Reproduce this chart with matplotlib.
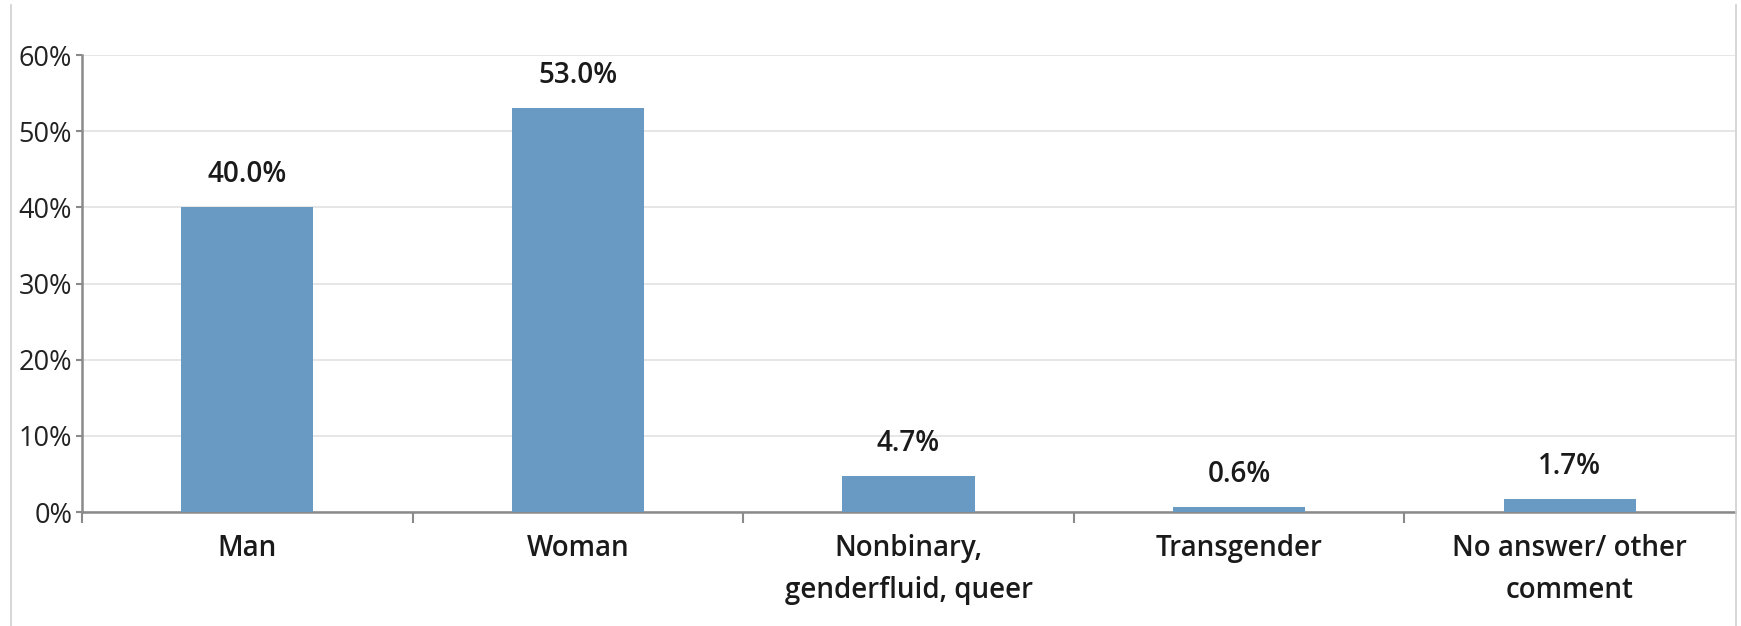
import matplotlib
matplotlib.use("Agg")
import matplotlib.pyplot as plt
from matplotlib.lines import Line2D
from matplotlib.ticker import FuncFormatter

plt.rcParams["font.family"] = ["Open Sans", "DejaVu Sans"]

# Chart data
categories = ["Man", "Woman", "Nonbinary,\ngenderfluid, queer", "Transgender", "No answer/ other\ncomment"]
shares = [40.0, 53.0, 4.7, 0.6, 1.7]
y_ticks = [0, 10, 20, 30, 40, 50, 60]

bar_color = "#689AC3"
axis_color = "#8A8A8A"

fig = plt.figure(figsize=(17.41, 6.26), dpi=100)
ax = fig.add_axes([0.0471, 0.1821, 0.9495, 0.7300])

x = list(range(len(categories)))
bars = ax.bar(x, shares, width=0.4, color=bar_color, zorder=3)

# value labels above bars
for xi, v in zip(x, shares):
    ax.annotate(f"{v:.1f}%", (xi, v), xytext=(0, 13), textcoords="offset points",
                ha="center", va="bottom", fontsize=20, fontweight="semibold",
                color="#1a1a1a")

ax.set_xlim(-0.5, len(categories) - 0.5)
ax.set_ylim(0, 60)
ax.set_yticks(y_ticks)
ax.yaxis.set_major_formatter(FuncFormatter(lambda v, p: f"{v:.0f}%"))
ax.grid(axis="y", color="#E4E4E4", linewidth=1.3, zorder=0)

# category labels centred, ticks at the boundaries
ax.set_xticks(x)
ax.set_xticklabels(categories, fontsize=20, fontweight="semibold", color="#1a1a1a",
                   linespacing=1.6)
ax.tick_params(axis="x", length=0, pad=16)
ax.set_xticks([i + 0.5 for i in x[:-1]] + [-0.5], minor=True)
ax.tick_params(axis="x", which="minor", length=8, width=1.5, color=axis_color,
               direction="out")
ax.tick_params(axis="y", length=4, width=1.5, color=axis_color, pad=3,
               labelsize=19.5, labelcolor="#222222")

for side in ["top", "right"]:
    ax.spines[side].set_visible(False)
for side in ["left", "bottom"]:
    ax.spines[side].set_color(axis_color)
    ax.spines[side].set_linewidth(1.8)

# thin frame lines at the picture edges
fig.add_artist(Line2D([11 / 1741, 11 / 1741], [0.0, 1 - 5 / 626],
                      transform=fig.transFigure, color="#CFCFCF", linewidth=1.2))
fig.add_artist(Line2D([1736 / 1741, 1736 / 1741], [0.0, 1 - 5 / 626],
                      transform=fig.transFigure, color="#CFCFCF", linewidth=1.2))

plt.savefig("out.png", dpi=100)
